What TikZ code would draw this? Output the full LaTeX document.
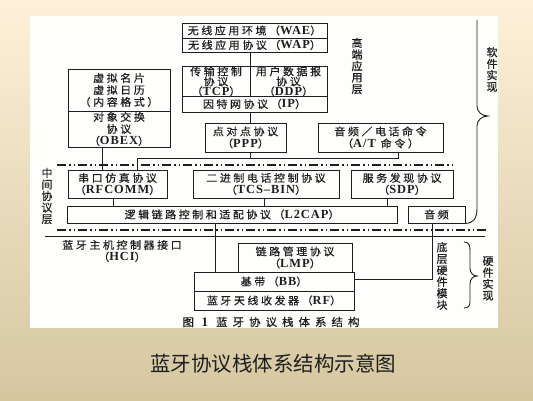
\documentclass[tikz,border=0pt]{standalone}
\usepackage{fontspec}
\newfontfamily\cjk[FakeStretch=1.05,LetterSpace=24,FakeBold=0.6]{Noto Sans CJK SC}
\newfontfamily\cjkc[FakeStretch=1.05,LetterSpace=45,FakeBold=0.6]{Noto Sans CJK SC}
\newfontfamily\cjkn[FakeBold=0.5]{Noto Sans CJK SC}
\newfontfamily\cjkt{Noto Sans CJK SC}
\newfontfamily\latfont[Scale=1.18,LetterSpace=8]{Liberation Serif}
\newcommand\ltn[1]{{\latfont\bfseries #1}}
\definecolor{ink}{HTML}{1E1E1E}
\definecolor{bgtop}{HTML}{FDF1D9}
\definecolor{bgmid}{HTML}{F4E7C9}
\definecolor{bgbot}{HTML}{D4C7A0}
\definecolor{paper}{HTML}{FEFEFC}
\begin{document}
\begin{tikzpicture}[x=1pt,y=-1pt,
  box/.style={draw=ink, line width=0.9pt, inner sep=0pt, align=center, text=ink,
    font=\cjk\fontsize{10.5}{10.5}\selectfont},
  lbl/.style={inner sep=0pt, align=center, text=ink, font=\cjkn\fontsize{11}{11.5}\selectfont},
  txt/.style={inner sep=0pt, align=center, text=ink, font=\cjk\fontsize{10.5}{12}\selectfont},
  conn/.style={draw=ink, line width=0.9pt},
  dashdotline/.style={draw=ink, line width=1.1pt, dash pattern=on 9pt off 3pt on 1.5pt off 3pt on 1.5pt off 3pt}]
\useasboundingbox (0,0) rectangle (533,400);
\shade[top color=bgtop, middle color=bgmid, bottom color=bgbot] (0,0) rectangle (533,400);
\fill[paper] (30,16) rectangle (498,328);

% upper layer
\node[box, minimum width=145pt, minimum height=15pt] (wae) at (254.5,30.5) {无线应用环境（\ltn{WAE}）};
\node[box, minimum width=145pt, minimum height=14pt] (wap) at (254.5,45) {无线应用协议（\ltn{WAP}）};
\node[box, minimum width=68pt, minimum height=29pt, font=\cjk\fontsize{10.5}{10}\selectfont] (tcp) at (216,81.5) {传输控制\\协议\\（\ltn{TCP}）};
\node[box, minimum width=77pt, minimum height=29pt, font=\cjk\fontsize{10.5}{10}\selectfont] (ddp) at (288.5,81.5) {用户数据报\\协议\\（\ltn{DDP}）};
\node[box, minimum width=145pt, minimum height=16pt] (ip) at (254.5,104) {因特网协议（\ltn{IP}）};
\node[box, minimum width=81pt, minimum height=29pt, font=\cjk\fontsize{10.5}{12}\selectfont] (ppp) at (245.5,137.5) {点对点协议\\（\ltn{PPP}）};
\node[box, minimum width=125pt, minimum height=29pt, font=\cjk\fontsize{10.5}{12}\selectfont] (at) at (380.5,137.5) {音频／电话命令\\（\ltn{A/T} 命令）};
\node[box, minimum width=102pt, minimum height=42pt, font=\cjk\fontsize{10.5}{12}\selectfont] (vc) at (119,90) {虚拟名片\\虚拟日历\\（内容格式）};
\node[box, minimum width=102pt, minimum height=36pt, font=\cjk\fontsize{10.5}{12}\selectfont] (obex) at (119,129) {对象交换\\协议\\（\ltn{OBEX}）};

% middle layer
\node[box, minimum width=99pt, minimum height=28pt, font=\cjk\fontsize{10.5}{12}\selectfont] (rfcomm) at (117.5,184) {串口仿真协议\\（\ltn{RFCOMM}）};
\node[box, minimum width=146pt, minimum height=28pt, font=\cjk\fontsize{10.5}{12}\selectfont] (tcs) at (266,184) {二进制电话控制协议\\（\ltn{TCS–BIN}）};
\node[box, minimum width=102pt, minimum height=28pt, font=\cjk\fontsize{10.5}{12}\selectfont] (sdp) at (402,184) {服务发现协议\\（\ltn{SDP}）};
\node[box, minimum width=330pt, minimum height=17pt] (l2cap) at (232,214.5) {逻辑链路控制和适配协议（\ltn{L2CAP}）};
\node[box, minimum width=57pt, minimum height=17pt] (audio) at (436.5,214.5) {音频};

% lower layer
\node[box, minimum width=114pt, minimum height=29pt, font=\cjk\fontsize{10.5}{12}\selectfont] (lmp) at (295,257.5) {链路管理协议\\（\ltn{LMP}）};
\node[box, minimum width=160pt, minimum height=19pt] (bb) at (274,281.5) {基带（\ltn{BB}）};
\node[box, minimum width=160pt, minimum height=19pt] (rf) at (274,300.5) {蓝牙天线收发器（\ltn{RF}）};

% connectors
\coordinate (ox) at (102,0);
\coordinate (busL) at (137,158);
\coordinate (busR) at (398,158);
\coordinate (t1) at (113,0);
\coordinate (t2) at (264,0);
\coordinate (t3) at (387,0);
\coordinate (hv) at (215,0);
\coordinate (av) at (432,279);
\draw[conn] (tcp.north east |- wap.south) -- (tcp.north east);
\draw[conn] (ip.south -| tcp.east) -- (ppp.north -| tcp.east);
\draw[conn] (ppp.south -| tcp.east) -- (tcp.east |- busL);
\draw[conn] (at.south -| busR) -- (busR) -- (busL) -- (rfcomm.north -| busL);
\draw[conn] (obex.south -| ox) -- (rfcomm.north -| ox);
\draw[conn] (rfcomm.south -| t1) -- (l2cap.north -| t1);
\draw[conn] (tcs.south -| t2) -- (l2cap.north -| t2);
\draw[conn] (sdp.south -| t3) -- (l2cap.north -| t3);

% layer separators
\coordinate (d1a) at (57,165);
\coordinate (d1b) at (455,165);
\coordinate (d2a) at (57,230);
\coordinate (d2b) at (487,230);
\coordinate (s2a) at (45,236);
\coordinate (s2b) at (485,236);
\draw[dashdotline] (d1a) -- (d1b);
\draw[dashdotline] (d2a) -- (d2b);
\draw[conn] (s2a) -- (s2b);

\draw[conn] (l2cap.south -| hv) -- (bb.north -| hv);
\draw[conn] (audio.south -| av) -- (av) -- (bb.east |- av);

% braces
\draw[conn] (audio.south east) .. controls (474,223) and (477,218) .. (477,208) -- (477,126)
  .. controls (477,120) and (482,116) .. (488,116)
  .. controls (482,116) and (477,112) .. (477,106) -- (477,20);
\draw[conn] (464,242) .. controls (468,242) and (470,244) .. (470,250) -- (470,268)
  .. controls (470,273) and (473,276) .. (477,276)
  .. controls (473,276) and (470,279) .. (470,284) -- (470,302)
  .. controls (470,306) and (468,308) .. (464,308);

% labels
\node[lbl] (high) at (357,66) {高\\端\\应\\用\\层};
\node[lbl] (mid) at (47,196) {中\\间\\协\\议\\层};
\node[lbl] (soft) at (492,69.5) {软\\件\\实\\现};
\node[lbl] (low) at (442,276) {底\\层\\硬\\件\\模\\块};
\node[lbl] (hard) at (488,278.5) {硬\\件\\实\\现};
\node[txt] (hci) at (122,251) {蓝牙主机控制器接口\\（\ltn{HCI}）};
\node[inner sep=0pt, text=ink, font=\cjkc\fontsize{11}{12}\selectfont] (cap) at (271,322) {图 \ltn{1}\hspace{8pt}蓝牙协议栈体系结构};
\node[inner sep=0pt, text=ink, font=\cjkt\fontsize{20.5}{22}\selectfont] (title) at (273,364) {蓝牙协议栈体系结构示意图};
\end{tikzpicture}
\end{document}
